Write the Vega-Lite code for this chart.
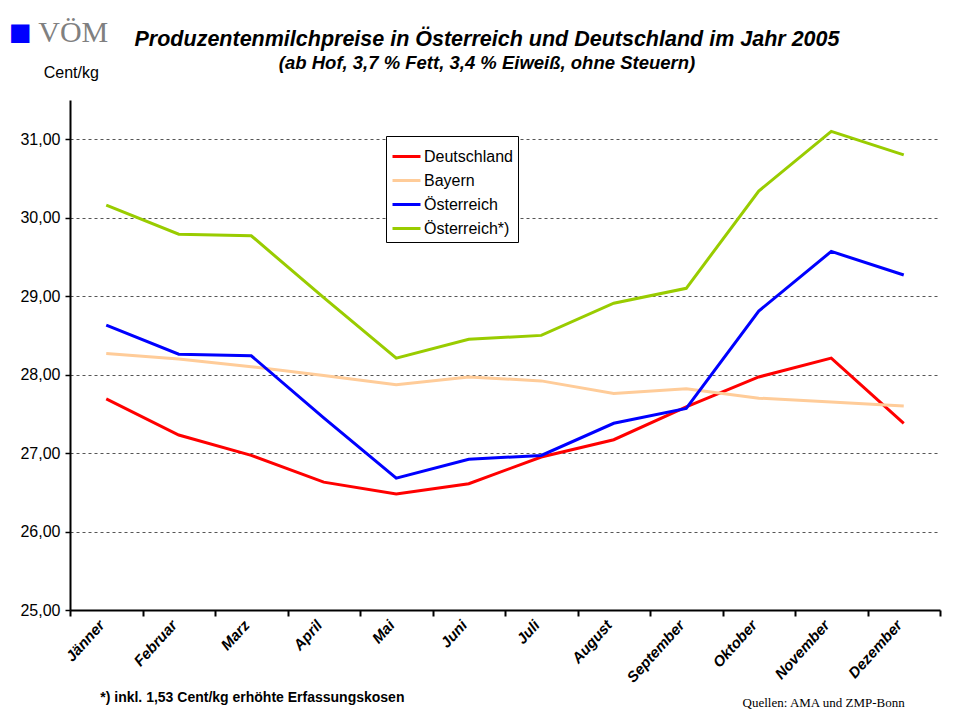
{
  "$schema": "https://vega.github.io/schema/vega-lite/v6.json",
  "width": 870,
  "height": 510,
  "autosize": "none",
  "padding": {"left": 70, "top": 100, "right": 14, "bottom": 110},
  "background": "white",
  "title": {
    "text": "Produzentenmilchpreise in Österreich und Deutschland im Jahr 2005",
    "subtitle": "(ab Hof, 3,7 % Fett, 3,4 % Eiweiß, ohne Steuern)",
    "font": "Liberation Sans", "fontSize": 21.5, "fontWeight": "bold", "fontStyle": "italic", "color": "black",
    "subtitleFont": "Liberation Sans", "subtitleFontSize": 18.5, "subtitleFontWeight": "bold", "subtitleFontStyle": "italic", "subtitleColor": "black",
    "anchor": "middle", "dx": -18, "offset": -54, "subtitlePadding": 3
  },
  "config": {"view": {"stroke": null}, "font": "Liberation Sans"},
  "layer": [
    {
      "data": {"values": [
        {"month": "Jänner", "series": "Deutschland", "value": 27.69},
        {"month": "Februar", "series": "Deutschland", "value": 27.23},
        {"month": "Marz", "series": "Deutschland", "value": 26.97},
        {"month": "April", "series": "Deutschland", "value": 26.63},
        {"month": "Mai", "series": "Deutschland", "value": 26.48},
        {"month": "Juni", "series": "Deutschland", "value": 26.61},
        {"month": "Juli", "series": "Deutschland", "value": 26.95},
        {"month": "August", "series": "Deutschland", "value": 27.17},
        {"month": "September", "series": "Deutschland", "value": 27.59},
        {"month": "Oktober", "series": "Deutschland", "value": 27.97},
        {"month": "November", "series": "Deutschland", "value": 28.21},
        {"month": "Dezember", "series": "Deutschland", "value": 27.38},
        {"month": "Jänner", "series": "Bayern", "value": 28.27},
        {"month": "Februar", "series": "Bayern", "value": 28.20},
        {"month": "Marz", "series": "Bayern", "value": 28.10},
        {"month": "April", "series": "Bayern", "value": 27.99},
        {"month": "Mai", "series": "Bayern", "value": 27.87},
        {"month": "Juni", "series": "Bayern", "value": 27.97},
        {"month": "Juli", "series": "Bayern", "value": 27.92},
        {"month": "August", "series": "Bayern", "value": 27.76},
        {"month": "September", "series": "Bayern", "value": 27.82},
        {"month": "Oktober", "series": "Bayern", "value": 27.70},
        {"month": "November", "series": "Bayern", "value": 27.65},
        {"month": "Dezember", "series": "Bayern", "value": 27.60},
        {"month": "Jänner", "series": "Österreich", "value": 28.63},
        {"month": "Februar", "series": "Österreich", "value": 28.26},
        {"month": "Marz", "series": "Österreich", "value": 28.24},
        {"month": "April", "series": "Österreich", "value": 27.45},
        {"month": "Mai", "series": "Österreich", "value": 26.68},
        {"month": "Juni", "series": "Österreich", "value": 26.92},
        {"month": "Juli", "series": "Österreich", "value": 26.97},
        {"month": "August", "series": "Österreich", "value": 27.38},
        {"month": "September", "series": "Österreich", "value": 27.57},
        {"month": "Oktober", "series": "Österreich", "value": 28.81},
        {"month": "November", "series": "Österreich", "value": 29.57},
        {"month": "Dezember", "series": "Österreich", "value": 29.27},
        {"month": "Jänner", "series": "Österreich*)", "value": 30.16},
        {"month": "Februar", "series": "Österreich*)", "value": 29.79},
        {"month": "Marz", "series": "Österreich*)", "value": 29.77},
        {"month": "April", "series": "Österreich*)", "value": 28.98},
        {"month": "Mai", "series": "Österreich*)", "value": 28.21},
        {"month": "Juni", "series": "Österreich*)", "value": 28.45},
        {"month": "Juli", "series": "Österreich*)", "value": 28.50},
        {"month": "August", "series": "Österreich*)", "value": 28.91},
        {"month": "September", "series": "Österreich*)", "value": 29.10},
        {"month": "Oktober", "series": "Österreich*)", "value": 30.34},
        {"month": "November", "series": "Österreich*)", "value": 31.10},
        {"month": "Dezember", "series": "Österreich*)", "value": 30.80}
      ]},
      "mark": {"type": "line", "strokeWidth": 3},
      "encoding": {
        "x": {
          "field": "month", "type": "ordinal",
          "sort": ["Jänner", "Februar", "Marz", "April", "Mai", "Juni", "Juli", "August", "September", "Oktober", "November", "Dezember"],
          "scale": {"type": "band", "paddingInner": 0, "paddingOuter": 0},
          "axis": {
            "title": null, "labelAngle": -48, "labelFont": "Liberation Sans", "labelFontSize": 15,
            "labelFontWeight": "bold", "labelFontStyle": "italic", "labelColor": "black", "labelPadding": 6, "labelOffset": -5,
            "tickBand": "extent", "tickSize": 6, "tickWidth": 2, "tickColor": "black",
            "domainColor": "black", "domainWidth": 2, "grid": false
          }
        },
        "y": {
          "field": "value", "type": "quantitative",
          "scale": {"domain": [25, 31.5], "nice": false, "zero": false},
          "axis": {
            "title": null,
            "values": [25, 26, 27, 28, 29, 30, 31],
            "labelExpr": "replace(format(datum.value, '.2f'), '.', ',')",
            "labelFont": "Liberation Sans", "labelFontSize": 16, "labelColor": "black", "labelPadding": 5,
            "tickSize": 5, "tickColor": "black", "tickWidth": 1.5,
            "domainColor": "black", "domainWidth": 2,
            "grid": true, "gridDash": [3, 3], "gridColor": "#555555", "gridWidth": 1
          }
        },
        "color": {
          "field": "series", "type": "nominal",
          "scale": {"domain": ["Deutschland", "Bayern", "Österreich", "Österreich*)"], "range": ["#FF0000", "#FFCC99", "#0000FF", "#99CC00"]},
          "legend": {
            "title": null, "orient": "none", "legendX": 316, "legendY": 36,
            "strokeColor": "black", "fillColor": "white", "padding": 5,
            "symbolType": "stroke", "symbolStrokeWidth": 3, "symbolSize": 784,
            "labelFont": "Liberation Sans", "labelFontSize": 16, "labelColor": "black", "labelOffset": 2,
            "rowPadding": -3
          }
        }
      }
    },
    {
      "data": {"values": [{"t": "Cent/kg"}]},
      "mark": {"type": "text", "font": "Liberation Sans", "fontSize": 16, "color": "black", "align": "center", "baseline": "middle", "dx": -35, "clip": false},
      "encoding": {"x": {"datum": "Jänner"}, "y": {"datum": 31.84}, "text": {"field": "t"}}
    },
    {
      "data": {"values": [{"t": "VÖM"}]},
      "mark": {"type": "text", "font": "Liberation Serif", "fontSize": 30, "color": "#808080", "align": "right", "baseline": "alphabetic", "dx": 2, "clip": false},
      "encoding": {"x": {"datum": "Jänner"}, "y": {"datum": 32.236}, "text": {"field": "t"}}
    },
    {
      "data": {"values": [{"t": "■"}]},
      "mark": {"type": "text", "font": "DejaVu Sans", "fontSize": 24, "color": "#0000FF", "align": "center", "baseline": "middle", "dx": -86, "clip": false},
      "encoding": {"x": {"datum": "Jänner"}, "y": {"datum": 32.36}, "text": {"field": "t"}}
    },
    {
      "data": {"values": [{"t": "*) inkl. 1,53 Cent/kg erhöhte Erfassungskosen"}]},
      "mark": {"type": "text", "font": "Liberation Sans", "fontSize": 14, "fontWeight": "bold", "color": "black", "align": "left", "baseline": "alphabetic", "dx": -6, "clip": false},
      "encoding": {"x": {"datum": "Jänner"}, "y": {"datum": 23.83}, "text": {"field": "t"}}
    },
    {
      "data": {"values": [{"t": "Quellen: AMA und ZMP-Bonn"}]},
      "mark": {"type": "text", "font": "Liberation Serif", "fontSize": 13, "color": "black", "align": "right", "baseline": "alphabetic", "dx": 1, "clip": false},
      "encoding": {"x": {"datum": "Dezember"}, "y": {"datum": 23.764}, "text": {"field": "t"}}
    }
  ]
}
